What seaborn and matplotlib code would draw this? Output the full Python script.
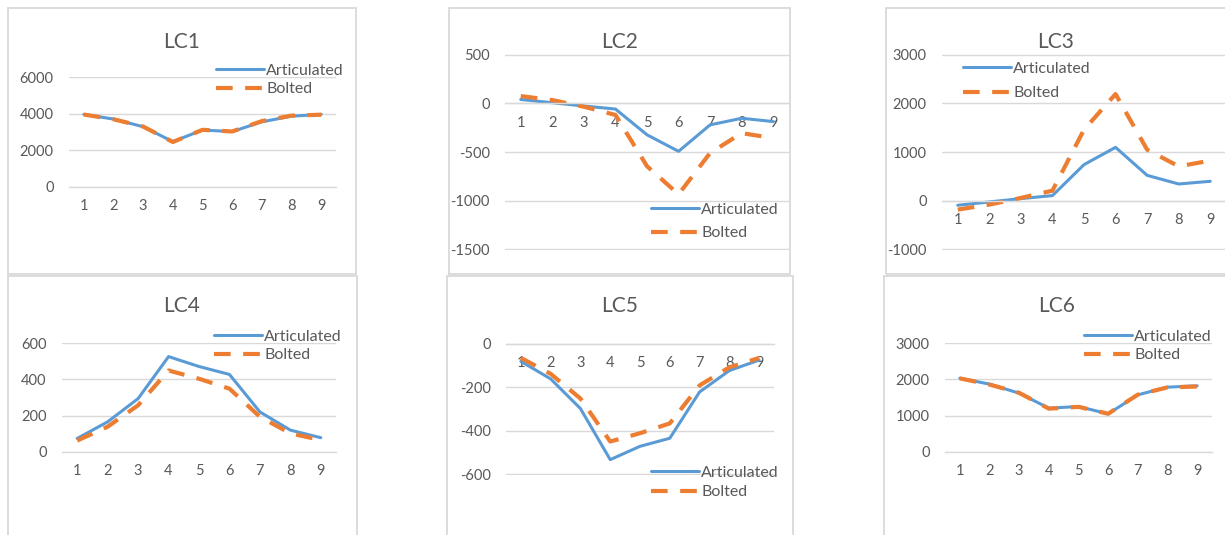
import matplotlib
matplotlib.use("Agg")
import matplotlib.pyplot as plt
from matplotlib.patches import Rectangle
import seaborn as sns

sns.set_theme(style="white")
plt.rcParams['font.family'] = ['Lato', 'DejaVu Sans']
plt.rcParams['axes.unicode_minus'] = False

# data
nodes = [1, 2, 3, 4, 5, 6, 7, 8, 9]
titles = ["LC1", "LC2", "LC3", "LC4", "LC5", "LC6"]

lc1_art = [3970, 3710, 3290, 2470, 3110, 3020, 3560, 3870, 3970]
lc1_bol = [3960, 3700, 3300, 2450, 3120, 3030, 3600, 3900, 3950]
lc2_art = [40, 7, -27, -58, -323, -493, -221, -153, -187]
lc2_bol = [75, 34, -34, -119, -646, -935, -510, -306, -357]
lc3_art = [-96, -27, 41, 103, 740, 1096, 520, 342, 397]
lc3_bol = [-185, -82, 55, 205, 1459, 2192, 1048, 705, 822]
lc4_art = [73, 165, 294, 527, 472, 428, 220, 119, 77]
lc4_bol = [61, 138, 257, 450, 404, 349, 193, 101, 64]
lc5_art = [-82, -162, -298, -532, -471, -434, -222, -124, -76]
lc5_bol = [-66, -139, -252, -449, -411, -366, -192, -109, -66]
lc6_art = [2037, 1870, 1620, 1204, 1250, 1046, 1574, 1787, 1824]
lc6_bol = [2030, 1860, 1630, 1190, 1240, 1050, 1580, 1780, 1805]

yticks1 = [0, 2000, 4000, 6000]
yticks2 = [-1500, -1000, -500, 0, 500]
yticks3 = [-1000, 0, 1000, 2000, 3000]
yticks4 = [0, 200, 400, 600]
yticks5 = [-600, -400, -200, 0]
yticks6 = [0, 1000, 2000, 3000]

articulated = [lc1_art, lc2_art, lc3_art, lc4_art, lc5_art, lc6_art]
bolted = [lc1_bol, lc2_bol, lc3_bol, lc4_bol, lc5_bol, lc6_bol]
yticks = [yticks1, yticks2, yticks3, yticks4, yticks5, yticks6]

BLUE = "#5B9BD5"
ORANGE = "#ED7D31"
GREY_TXT = "#595959"
GREY_LN = "#D9D9D9"

W, H = 1225, 535
fig = plt.figure(figsize=(W / 100, H / 100), dpi=100)


def fx(px):
    return px / W


def fy(py):
    return 1 - py / H


# layout in pixels: frame (l, t, r, b), plot area (l, t, r, b),
# title centre (x, y), legend (handle x, middle y, labelspacing)
layout = [
    ((8, 8, 356, 274), (69, 77, 336, 187), (182, 42), (216, 80, 0.25)),
    ((449, 8, 790, 274), (505, 54, 789, 250), (620, 42), (651, 221.5, 0.6)),
    ((886, 8, 1232, 274), (942, 54, 1226, 250), (1056, 42), (963, 81, 0.65)),
    ((8, 276, 357, 540), (62, 343, 336, 452), (182, 306), (214, 346, 0.25)),
    ((447, 276, 793, 540), (506, 343, 774, 475), (620, 306), (651, 482.5, 0.33)),
    ((884, 276, 1232, 540), (945, 343, 1212, 452), (1057, 306), (1084, 346, 0.25)),
]

for i, (frame, area, tpos, lpos) in enumerate(layout):
    l, t, r, b = frame
    fig.add_artist(Rectangle((fx(l), fy(b)), fx(r - l), (b - t) / H,
                             transform=fig.transFigure, fill=False,
                             ec=GREY_LN, lw=1.3))

    l, t, r, b = area
    ax = fig.add_axes([fx(l), fy(b), fx(r - l), (b - t) / H])

    sns.lineplot(x=nodes, y=articulated[i], color=BLUE, lw=2.2,
                 label="Articulated", ax=ax)
    sns.lineplot(x=nodes, y=bolted[i], color=ORANGE, lw=3,
                 linestyle=(0, (4, 3)), label="Bolted", ax=ax)

    lo, hi = yticks[i][0], yticks[i][-1]
    pad = (hi - lo) * 0.004
    ax.set_xlim(0.5, 9.5)
    ax.set_ylim(lo - pad, hi + pad)
    ax.set_xticks(nodes)
    ax.set_yticks(yticks[i])
    ax.grid(axis="y", color=GREY_LN, lw=1)
    ax.set_axisbelow(True)
    for s in ["top", "left", "right"]:
        ax.spines[s].set_visible(False)
    ax.spines["bottom"].set_position(("data", 0))
    ax.spines["bottom"].set_color(GREY_LN)
    ax.spines["bottom"].set_linewidth(1)
    ax.tick_params(axis="x", length=0, pad=9, labelsize=10.5, labelcolor=GREY_TXT)
    ax.tick_params(axis="y", length=0, pad=11, labelsize=10.5, labelcolor=GREY_TXT)
    ax.set_xlabel("")
    ax.set_ylabel("")
    ax.patch.set_alpha(0)

    fig.text(fx(tpos[0]), fy(tpos[1]), titles[i], ha="center", va="center",
             fontsize=15, color=GREY_TXT)

    ax.legend(loc="center left", bbox_to_anchor=(fx(lpos[0]), fy(lpos[1])),
              bbox_transform=fig.transFigure, frameon=False, borderpad=0,
              borderaxespad=0, handlelength=3, handletextpad=0.15,
              labelspacing=lpos[2], fontsize=11.5, labelcolor=GREY_TXT)

fig.savefig("out.png", dpi=100, facecolor="white")
